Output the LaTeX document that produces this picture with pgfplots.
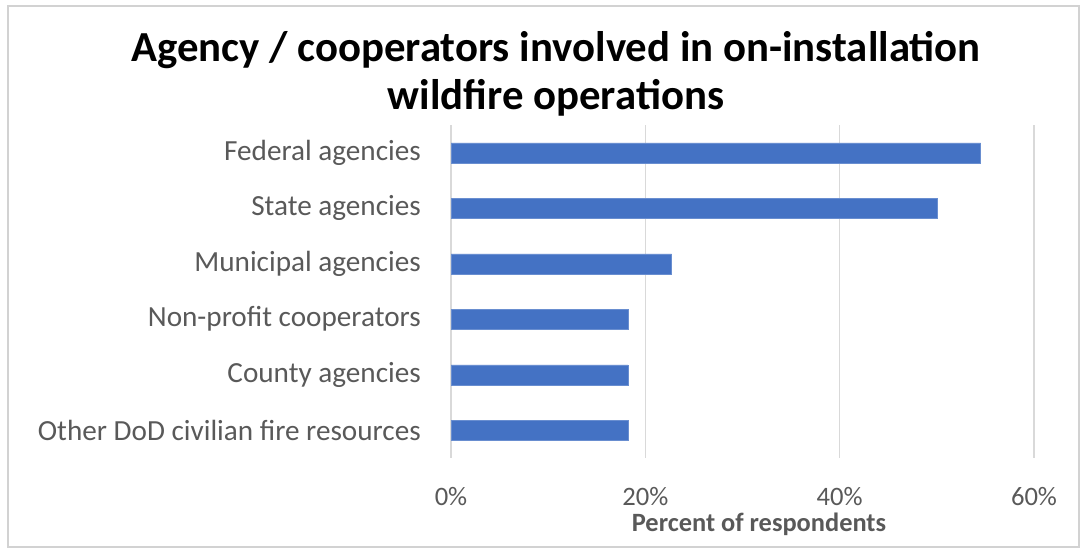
\documentclass[border=0pt]{standalone}
\usepackage{pgfplots}
\pgfplotsset{compat=1.18}
\usepackage{fontspec}
\setmainfont{Carlito}
\definecolor{barblue}{HTML}{4472C4}
\definecolor{txtgray}{HTML}{595959}
\definecolor{gridgray}{HTML}{D9D9D9}
\begin{document}
\begin{tikzpicture}[x=1pt,y=1pt]
\path[use as bounding box] (0,0) rectangle (1086,553);
\draw[gray!35, line width=1.5pt] (8,6) rectangle (1079,547);
\node[anchor=base, font=\fontsize{42.8}{48}\selectfont\bfseries] at (556,491) {Agency / cooperators involved in on-installation};
\node[anchor=base, font=\fontsize{42.8}{48}\selectfont\bfseries] at (556,443) {wildfire operations};
\begin{axis}[
  at={(451pt,95pt)}, anchor=south west,
  scale only axis, width=583pt, height=333pt,
  xmin=0, xmax=60, ymin=-0.5, ymax=5.5, y dir=reverse,
  xbar, bar width=20pt,
  ytick={0,1,2,3,4,5},
  yticklabels={Federal agencies,State agencies,Municipal agencies,Non-profit cooperators,County agencies,Other DoD civilian fire resources},
  xtick={0,20,40,60},
  xticklabel={\pgfmathprintnumber{\tick}\%},
  /pgf/number format/assume math mode=true,
  xmajorgrids, grid style={gridgray, line width=1.2pt},
  axis line style={draw=none},
  major tick length=0pt,
  ticklabel style={font=\fontsize{26.6}{30}\selectfont, text=txtgray, inner sep=0pt},
  yticklabel style={anchor=east, xshift=-30pt, font=\fontsize{29.2}{32}\selectfont},
  xticklabel style={anchor=base, yshift=-47pt},
]
\addplot[fill=barblue, draw=barblue!80!white] coordinates {
(54.5,0) (50,1) (22.7,2) (18.2,3) (18.2,4) (18.2,5)};
\end{axis}
\node[anchor=base, font=\fontsize{26.4}{30}\selectfont\bfseries, text=txtgray] at (759,21) {Percent of respondents};
\end{tikzpicture}
\end{document}
